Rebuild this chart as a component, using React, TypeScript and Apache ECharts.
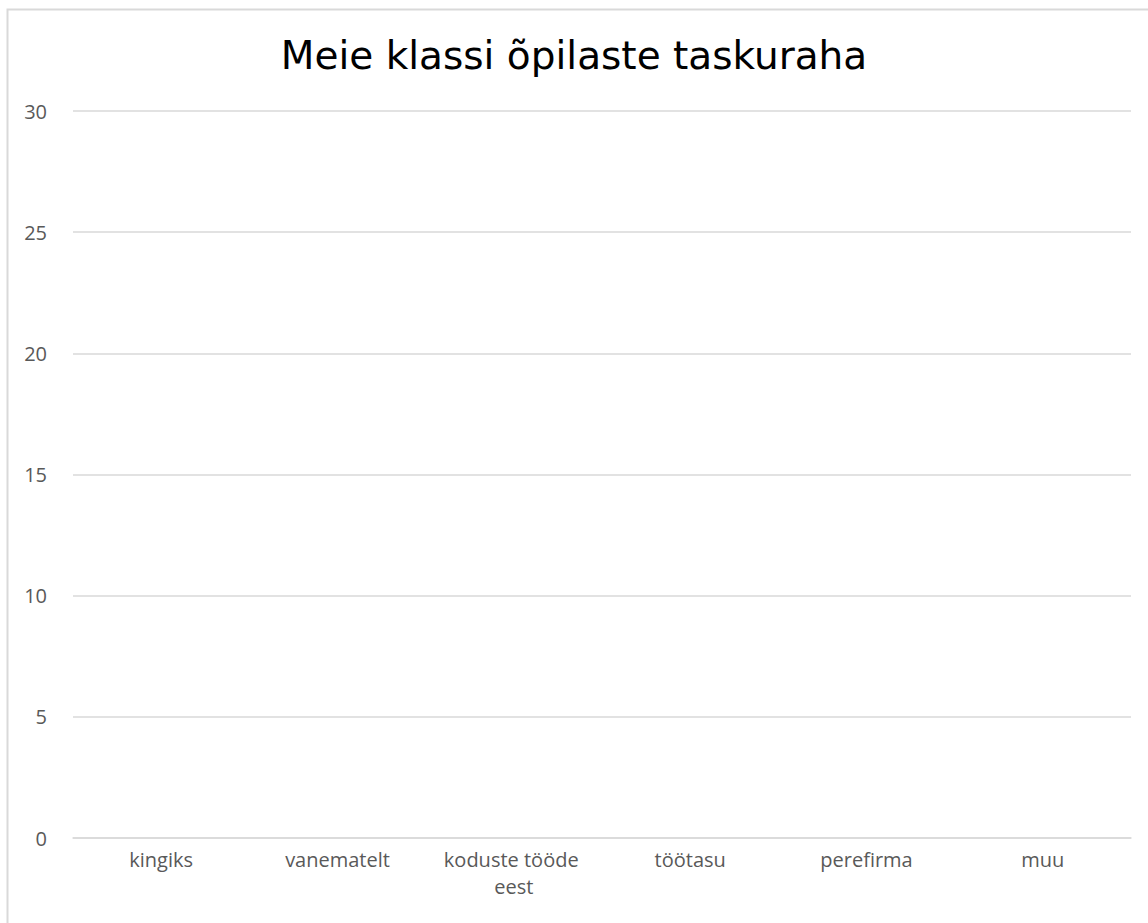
import React, { useEffect, useRef } from "react";
import * as echarts from "echarts";

const TITLE = "Meie klassi õpilaste taskuraha";
const categories = ["kingiks", "vanematelt", "koduste tööde eest", "töötasu", "perefirma", "muu"];
// The reference chart shows no bars: every value is empty.
const values: (number | null)[] = [null, null, null, null, null, null];
const yMin = 0;
const yMax = 30;
const yStep = 5;

export default function App() {
  const ref = useRef<HTMLDivElement>(null);
  useEffect(() => {
    if (!ref.current) return;
    const chart = echarts.init(ref.current, undefined, { renderer: "svg" });
    chart.setOption({
      animation: false,
      backgroundColor: "#ffffff",
      title: {
        text: TITLE,
        left: "center",
        top: 31,
        textStyle: {
          fontFamily: "DejaVu Sans",
          fontSize: 39,
          fontWeight: "normal",
          color: "#000000",
        },
      },
      graphic: [
        {
          type: "rect",
          silent: true,
          shape: { x: 7.5, y: 9.5, width: 1160, height: 940 },
          style: { fill: "none", stroke: "#d9d9d9", lineWidth: 2 },
        },
      ],
      grid: { left: 73, right: 17, top: 111, bottom: 85, containLabel: false },
      xAxis: {
        type: "category",
        data: categories,
        axisLine: { show: true, lineStyle: { color: "#d9d9d9", width: 1.5 } },
        axisTick: { show: false },
        axisLabel: {
          color: "#595959",
          fontFamily: "Open Sans",
          fontSize: 20,
          margin: 8,
          width: 166,
          overflow: "break",
          lineHeight: 27,
          interval: 0,
        },
      },
      yAxis: {
        type: "value",
        min: yMin,
        max: yMax,
        interval: yStep,
        axisLine: { show: false },
        axisTick: { show: false },
        splitLine: { show: true, lineStyle: { color: "#d9d9d9", width: 1.5 } },
        axisLabel: {
          color: "#595959",
          fontFamily: "Open Sans",
          fontSize: 20,
          margin: 26,
          align: "right",
        },
      },
      series: [
        {
          type: "bar",
          data: values,
          itemStyle: { color: "#4472c4" },
        },
      ],
    });
    return () => chart.dispose();
  }, []);
  return (
    <div
      ref={ref}
      style={{ position: "fixed", left: 0, top: 0, width: 1148, height: 923 }}
    />
  );
}
